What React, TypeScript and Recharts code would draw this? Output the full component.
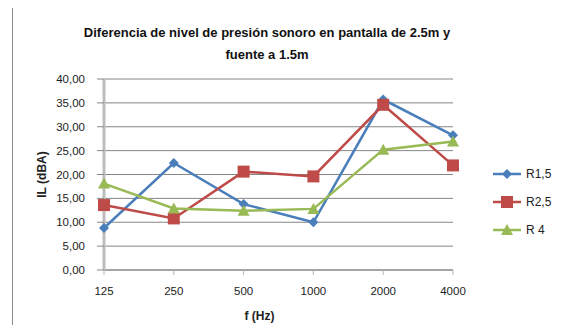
import { LineChart, Line, XAxis, YAxis, CartesianGrid } from "recharts";

const freqs = ["125", "250", "500", "1000", "2000", "4000"];
const r15 = [8.8, 22.4, 13.8, 10.0, 35.7, 28.2];
const r25 = [13.6, 10.8, 20.6, 19.6, 34.6, 21.9];
const r4 = [18.1, 12.9, 12.4, 12.8, 25.2, 26.9];
const yTicks = [0, 5, 10, 15, 20, 25, 30, 35, 40];

const BLUE = "#4A7EBB";
const RED = "#BE4B48";
const GREEN = "#98B954";
const FONT = "'Liberation Sans', Arial, sans-serif";

const data = freqs.map((f, i) => ({ f, r15: r15[i], r25: r25[i], r4: r4[i] }));

const series = [
  { key: "r15", name: "R1,5", color: BLUE, shape: "diamond" },
  { key: "r25", name: "R2,5", color: RED, shape: "square" },
  { key: "r4", name: "R 4", color: GREEN, shape: "triangle" },
];

function Marker({ cx, cy, shape, color }: any) {
  if (cx == null || cy == null) return null;
  if (shape === "diamond")
    return <polygon points={`${cx},${cy - 5} ${cx + 5},${cy} ${cx},${cy + 5} ${cx - 5},${cy}`} fill={color} />;
  if (shape === "square") return <rect x={cx - 6} y={cy - 6} width={12} height={12} fill={color} />;
  return <polygon points={`${cx},${cy - 6} ${cx + 6},${cy + 5} ${cx - 6},${cy + 5}`} fill={color} />;
}

// legend drawn beside the plot, one row per series
function LegendBox() {
  return (
    <svg width={70} height={80}>
      {series.map((s, i) => {
        const y = 10 + i * 28;
        return (
          <g key={s.key}>
            <line x1={0} x2={28} y1={y} y2={y} stroke={s.color} strokeWidth={2.5} />
            <Marker cx={14} cy={y} shape={s.shape} color={s.color} />
            <text x={33} y={y + 4} fontSize={12} fontFamily={FONT} fill="#222">
              {s.name}
            </text>
          </g>
        );
      })}
    </svg>
  );
}

export default function App() {
  return (
    <div style={{ position: "relative", width: 562, height: 333, margin: -8, background: "#fff", overflow: "hidden" }}>
      <div
        style={{
          position: "absolute",
          left: 12,
          top: 7,
          width: 600,
          height: 400,
          borderLeft: "1px solid #8a8a8a",
          borderTop: "1px solid #8a8a8a",
        }}
      />
      <div
        style={{
          position: "absolute",
          left: 0,
          width: 534,
          top: 22,
          textAlign: "center",
          fontFamily: FONT,
          fontWeight: "bold",
          fontSize: 13,
          lineHeight: "22px",
          color: "#111",
        }}
      >
        Diferencia de nivel de presión sonoro en pantalla de 2.5m y
        <br />
        fuente a 1.5m
      </div>
      <div style={{ position: "absolute", left: 0, top: 0 }}>
        <LineChart width={562} height={333} data={data} margin={{ top: 79, right: 109, bottom: 0, left: 0 }}>
          <CartesianGrid vertical={false} stroke="#868686" />
          <XAxis
            dataKey="f"
            height={63}
            tick={{ fontSize: 11.5, fontFamily: FONT, fill: "#222" }}
            tickLine={{ stroke: "#b5b5b5" }}
            tickSize={5}
            tickMargin={12}
            axisLine={{ stroke: "#868686" }}
            interval={0}
            label={(p: any) => {
              const vb = p.viewBox;
              return (
                <text
                  x={vb.x + vb.width / 2 - 19}
                  y={vb.y + 50}
                  textAnchor="middle"
                  fontSize={12}
                  fontWeight="bold"
                  fontFamily={FONT}
                  fill="#222"
                >
                  f (Hz)
                </text>
              );
            }}
          />
          <YAxis
            width={104}
            domain={[0, 40]}
            ticks={yTicks}
            interval={0}
            tickFormatter={(v) => v.toFixed(2).replace(".", ",")}
            tick={{ fontSize: 11.5, fontFamily: FONT, fill: "#222" }}
            tickLine={{ stroke: "#868686" }}
            tickSize={7}
            tickMargin={12}
            axisLine={{ stroke: "#bdbdbd", strokeWidth: 3 }}
            label={(p: any) => {
              const vb = p.viewBox;
              const cx = vb.x + 42;
              const cy = vb.y + vb.height / 2;
              return (
                <text
                  x={cx}
                  y={cy}
                  transform={`rotate(-90 ${cx} ${cy})`}
                  textAnchor="middle"
                  dominantBaseline="central"
                  fontSize={12}
                  fontWeight="bold"
                  fontFamily={FONT}
                  fill="#222"
                >
                  IL (dBA)
                </text>
              );
            }}
          />
          {series.map((s) => (
            <Line
              key={s.key}
              dataKey={s.key}
              name={s.name}
              stroke={s.color}
              strokeWidth={2.5}
              isAnimationActive={false}
              dot={(p: any) => <Marker key={`${s.key}-${p.index}`} cx={p.cx} cy={p.cy} shape={s.shape} color={s.color} />}
            />
          ))}
        </LineChart>
      </div>
      <div style={{ position: "absolute", left: 493, top: 164 }}>
        <LegendBox />
      </div>
    </div>
  );
}
